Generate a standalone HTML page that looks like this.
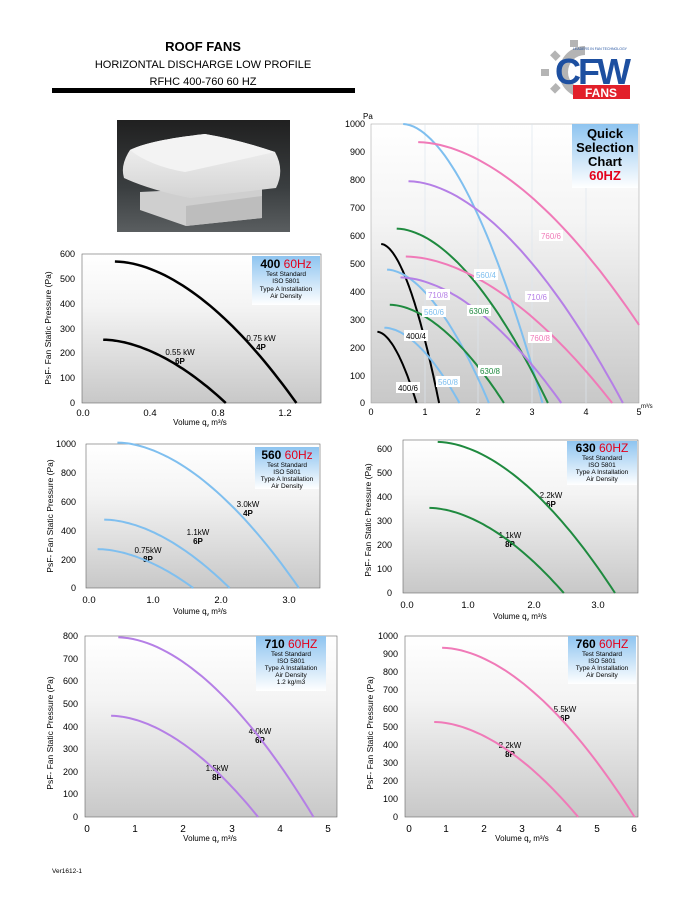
<!DOCTYPE html>
<html><head><meta charset="utf-8"><style>
html,body{margin:0;padding:0;background:#fff}
svg{display:block}
text{font-family:"Liberation Sans",Arial,sans-serif}
</style></head><body>
<svg id="s" width="700" height="900" viewBox="0 0 700 900" xmlns="http://www.w3.org/2000/svg">
<defs>
<linearGradient id="bg" x1="0" y1="0" x2="0" y2="1"><stop offset="0" stop-color="#ffffff"/><stop offset="0.35" stop-color="#f4f4f4"/><stop offset="1" stop-color="#c8c8c8"/></linearGradient>
<linearGradient id="bx" x1="0" y1="0" x2="0" y2="1"><stop offset="0" stop-color="#8ec4f0"/><stop offset="1" stop-color="#ffffff"/></linearGradient>
<linearGradient id="ph" x1="0" y1="0" x2="0" y2="1"><stop offset="0" stop-color="#202020"/><stop offset="0.6" stop-color="#3a3e40"/><stop offset="1" stop-color="#5a5e60"/></linearGradient>
<linearGradient id="wb" x1="0" y1="0" x2="0" y2="1"><stop offset="0" stop-color="#f4f4f4"/><stop offset="1" stop-color="#d4d4d4"/></linearGradient>
</defs>
<!-- header -->
<text x="203" y="51" font-size="13" font-weight="bold" text-anchor="middle">ROOF FANS</text>
<text x="203" y="68" font-size="11" text-anchor="middle">HORIZONTAL DISCHARGE LOW PROFILE</text>
<text x="203" y="85" font-size="11" text-anchor="middle">RFHC 400-760  60 HZ</text>
<rect x="52" y="88" width="303" height="5" fill="#000"/>
<!-- logo -->
<g fill="#b4b4b4">
<path d="M585 46 A26 26 0 1 0 585 98 L585 89 A17 17 0 1 1 585 55 Z"/>
<rect x="552" y="52" width="7" height="8" transform="rotate(-45 555 56)"/>
<rect x="541" y="69" width="8" height="7"/>
<rect x="552" y="84" width="7" height="8" transform="rotate(45 555 88)"/>
<rect x="570" y="40" width="8" height="7"/>
</g>
<text x="573" y="50" font-size="3.5" fill="#1d4e9e">LEADERS IN FAN TECHNOLOGY</text>
<text x="555" y="84" font-size="36" font-weight="bold" fill="#1d4fa0" letter-spacing="-3">CFW</text>
<rect x="573" y="85" width="57" height="14" fill="#e2202a"/>
<text x="601" y="97" font-size="12" font-weight="bold" fill="#fff" text-anchor="middle">FANS</text>
<!-- photo -->
<rect x="117" y="120" width="173" height="112" fill="url(#ph)"/>
<path d="M140 192 L262 186 L262 218 L186 226 L140 210 Z" fill="#cfcfcf"/>
<path d="M186 206 L262 196 L262 218 L186 226 Z" fill="#bdbdbd"/>
<path d="M130 150 Q150 140 205 134 Q240 140 275 152 Q285 170 276 188 L190 198 Q150 190 124 178 Q120 165 130 150 Z" fill="url(#wb)"/>
<path d="M130 150 Q150 140 205 134 Q240 140 275 152 L185 172 Q150 166 130 150 Z" fill="#f3f3f3"/>

<!-- Quick chart -->
<rect x="371" y="124" width="268" height="279" fill="url(#bg)" stroke="#999" stroke-width="0.5"/>
<g stroke="#dde6ee" stroke-width="0.7"><line x1="425" y1="124" x2="425" y2="403"/><line x1="478" y1="124" x2="478" y2="403"/><line x1="532" y1="124" x2="532" y2="403"/><line x1="586" y1="124" x2="586" y2="403"/></g>
<rect x="572" y="124" width="66" height="64" fill="url(#bx)"/>
<text x="605" y="138" font-size="13" font-weight="bold" text-anchor="middle">Quick</text>
<text x="605" y="152" font-size="13" font-weight="bold" text-anchor="middle">Selection</text>
<text x="605" y="166" font-size="13" font-weight="bold" text-anchor="middle">Chart</text>
<text x="605" y="180" font-size="13" font-weight="bold" text-anchor="middle" fill="#e3001b">60HZ</text>
<g font-size="9" text-anchor="end"><text x="365" y="127">1000</text><text x="365" y="155">900</text><text x="365" y="183">800</text><text x="365" y="211">700</text><text x="365" y="239">600</text><text x="365" y="267">500</text><text x="365" y="295">400</text><text x="365" y="323">300</text><text x="365" y="351">200</text><text x="365" y="379">100</text><text x="365" y="406">0</text></g>
<text x="363" y="119" font-size="8">Pa</text>
<g font-size="9" text-anchor="middle"><text x="371" y="415">0</text><text x="425" y="415">1</text><text x="478" y="415">2</text><text x="532" y="415">3</text><text x="586" y="415">4</text><text x="639" y="415">5</text></g>
<text x="641" y="408" font-size="6">m³/s</text>
<g id="qc"></g>
<g font-size="8" text-anchor="middle">
<rect x="539" y="230" width="24" height="11" fill="#fff"/><text x="551" y="239" fill="#f07ab8">760/6</text>
<rect x="474" y="269" width="24" height="11" fill="#fff"/><text x="486" y="278" fill="#7fbfef">560/4</text>
<rect x="525" y="291" width="24" height="11" fill="#fff"/><text x="537" y="300" fill="#b57fe6">710/6</text>
<rect x="426" y="289" width="24" height="11" fill="#fff"/><text x="438" y="298" fill="#b57fe6">710/8</text>
<rect x="422" y="306" width="24" height="11" fill="#fff"/><text x="434" y="315" fill="#7fbfef">560/6</text>
<rect x="467" y="305" width="24" height="11" fill="#fff"/><text x="479" y="314" fill="#1f8a3f">630/6</text>
<rect x="404" y="330" width="24" height="11" fill="#fff"/><text x="416" y="339" fill="#000">400/4</text>
<rect x="528" y="332" width="24" height="11" fill="#fff"/><text x="540" y="341" fill="#f07ab8">760/8</text>
<rect x="478" y="365" width="24" height="11" fill="#fff"/><text x="490" y="374" fill="#1f8a3f">630/8</text>
<rect x="436" y="376" width="24" height="11" fill="#fff"/><text x="448" y="385" fill="#7fbfef">560/8</text>
<rect x="396" y="382" width="24" height="11" fill="#fff"/><text x="408" y="391" fill="#000">400/6</text>
</g>

<!-- Chart 400 -->
<rect x="82" y="254" width="239" height="149" fill="url(#bg)" stroke="#666" stroke-width="0.6"/>
<rect x="252" y="256" width="68" height="49" fill="url(#bx)"/>
<text x="286" y="268" font-size="12" font-weight="bold" text-anchor="middle">400 <tspan fill="#e3001b" font-weight="normal">60Hz</tspan></text>
<g font-size="6.5" text-anchor="middle"><text x="286" y="276">Test Standard</text><text x="286" y="283">ISO 5801</text><text x="286" y="291">Type A Installation</text><text x="286" y="298">Air Density</text></g>
<g font-size="9" text-anchor="end"><text x="75" y="257">600</text><text x="75" y="282">500</text><text x="75" y="307">400</text><text x="75" y="332">300</text><text x="75" y="356">200</text><text x="75" y="381">100</text><text x="75" y="406">0</text></g>
<g font-size="9.5" text-anchor="middle"><text x="83" y="416">0.0</text><text x="150" y="416">0.4</text><text x="218" y="416">0.8</text><text x="285" y="416">1.2</text></g>
<text x="200" y="425" font-size="8" text-anchor="middle">Volume q<tspan font-size="5" dy="2">v</tspan><tspan dy="-2"> m³/s</tspan></text>
<text transform="translate(51 328) rotate(-90)" font-size="8.5" text-anchor="middle">PsF- Fan Static Pressure (Pa)</text>
<g font-size="8" text-anchor="middle"><text x="261" y="341">0.75 kW</text><text x="261" y="350" font-weight="bold">4P</text><text x="180" y="355">0.55 kW</text><text x="180" y="364" font-weight="bold">6P</text></g>

<!-- Chart 560 -->
<rect x="86" y="444" width="234" height="144" fill="url(#bg)" stroke="#666" stroke-width="0.6"/>
<rect x="255" y="447" width="64" height="42" fill="url(#bx)"/>
<text x="287" y="459" font-size="12" font-weight="bold" text-anchor="middle">560 <tspan fill="#e3001b" font-weight="normal">60Hz</tspan></text>
<g font-size="6.5" text-anchor="middle"><text x="287" y="467">Test Standard</text><text x="287" y="474">ISO 5801</text><text x="287" y="481">Type A Installation</text><text x="287" y="488">Air Density</text></g>
<g font-size="9" text-anchor="end"><text x="76" y="447">1000</text><text x="76" y="476">800</text><text x="76" y="505">600</text><text x="76" y="534">400</text><text x="76" y="563">200</text><text x="76" y="591">0</text></g>
<g font-size="9.5" text-anchor="middle"><text x="89" y="603">0.0</text><text x="153" y="603">1.0</text><text x="221" y="603">2.0</text><text x="289" y="603">3.0</text></g>
<text x="200" y="614" font-size="8" text-anchor="middle">Volume q<tspan font-size="5" dy="2">v</tspan><tspan dy="-2"> m³/s</tspan></text>
<text transform="translate(53 516) rotate(-90)" font-size="8.5" text-anchor="middle">PsF- Fan Static Pressure (Pa)</text>
<g font-size="8" text-anchor="middle"><text x="248" y="507">3.0kW</text><text x="248" y="516" font-weight="bold">4P</text><text x="198" y="535">1.1kW</text><text x="198" y="544" font-weight="bold">6P</text><text x="148" y="553">0.75kW</text><text x="148" y="562" font-weight="bold">8P</text></g>

<!-- Chart 630 -->
<rect x="403" y="440" width="235" height="153" fill="url(#bg)" stroke="#666" stroke-width="0.6"/>
<rect x="567" y="441" width="70" height="44" fill="url(#bx)"/>
<text x="602" y="452" font-size="12" font-weight="bold" text-anchor="middle">630 <tspan fill="#e3001b" font-weight="normal">60HZ</tspan></text>
<g font-size="6.5" text-anchor="middle"><text x="602" y="460">Test Standard</text><text x="602" y="467">ISO 5801</text><text x="602" y="474">Type A Installation</text><text x="602" y="481">Air Density</text></g>
<g font-size="9" text-anchor="end"><text x="392" y="452">600</text><text x="392" y="476">500</text><text x="392" y="500">400</text><text x="392" y="524">300</text><text x="392" y="548">200</text><text x="392" y="572">100</text><text x="392" y="596">0</text></g>
<g font-size="9.5" text-anchor="middle"><text x="407" y="608">0.0</text><text x="468" y="608">1.0</text><text x="534" y="608">2.0</text><text x="598" y="608">3.0</text></g>
<text x="520" y="619" font-size="8" text-anchor="middle">Volume q<tspan font-size="5" dy="2">v</tspan><tspan dy="-2"> m³/s</tspan></text>
<text transform="translate(371 520) rotate(-90)" font-size="8.5" text-anchor="middle">PsF- Fan Static Pressure (Pa)</text>
<g font-size="8" text-anchor="middle"><text x="551" y="498">2.2kW</text><text x="551" y="507" font-weight="bold">6P</text><text x="510" y="538">1.1kW</text><text x="510" y="547" font-weight="bold">8P</text></g>

<!-- Chart 710 -->
<rect x="85" y="636" width="252" height="181" fill="url(#bg)" stroke="#666" stroke-width="0.6"/>
<rect x="256" y="636" width="70" height="55" fill="url(#bx)"/>
<text x="291" y="648" font-size="12" font-weight="bold" text-anchor="middle">710 <tspan fill="#e3001b" font-weight="normal">60HZ</tspan></text>
<g font-size="6.5" text-anchor="middle"><text x="291" y="656">Test Standard</text><text x="291" y="663">ISO 5801</text><text x="291" y="670">Type A Installation</text><text x="291" y="677">Air Density</text><text x="291" y="684">1.2 kg/m3</text></g>
<g font-size="9" text-anchor="end"><text x="78" y="639">800</text><text x="78" y="662">700</text><text x="78" y="684">600</text><text x="78" y="707">500</text><text x="78" y="730">400</text><text x="78" y="752">300</text><text x="78" y="775">200</text><text x="78" y="797">100</text><text x="78" y="820">0</text></g>
<g font-size="10" text-anchor="middle"><text x="87" y="832">0</text><text x="135" y="832">1</text><text x="183" y="832">2</text><text x="232" y="832">3</text><text x="280" y="832">4</text><text x="328" y="832">5</text></g>
<text x="210" y="841" font-size="8" text-anchor="middle">Volume q<tspan font-size="5" dy="2">v</tspan><tspan dy="-2"> m³/s</tspan></text>
<text transform="translate(53 733) rotate(-90)" font-size="8.5" text-anchor="middle">PsF- Fan Static Pressure (Pa)</text>
<g font-size="8" text-anchor="middle"><text x="260" y="734">4.0kW</text><text x="260" y="743" font-weight="bold">6P</text><text x="217" y="771">1.5kW</text><text x="217" y="780" font-weight="bold">8P</text></g>

<!-- Chart 760 -->
<rect x="405" y="636" width="233" height="181" fill="url(#bg)" stroke="#666" stroke-width="0.6"/>
<rect x="568" y="636" width="68" height="48" fill="url(#bx)"/>
<text x="602" y="648" font-size="12" font-weight="bold" text-anchor="middle">760 <tspan fill="#e3001b" font-weight="normal">60HZ</tspan></text>
<g font-size="6.5" text-anchor="middle"><text x="602" y="656">Test Standard</text><text x="602" y="663">ISO 5801</text><text x="602" y="670">Type A Installation</text><text x="602" y="677">Air Density</text></g>
<g font-size="9" text-anchor="end"><text x="398" y="639">1000</text><text x="398" y="657">900</text><text x="398" y="675">800</text><text x="398" y="693">700</text><text x="398" y="712">600</text><text x="398" y="730">500</text><text x="398" y="748">400</text><text x="398" y="766">300</text><text x="398" y="784">200</text><text x="398" y="802">100</text><text x="398" y="820">0</text></g>
<g font-size="10" text-anchor="middle"><text x="409" y="832">0</text><text x="446" y="832">1</text><text x="484" y="832">2</text><text x="522" y="832">3</text><text x="559" y="832">4</text><text x="597" y="832">5</text><text x="634" y="832">6</text></g>
<text x="522" y="841" font-size="8" text-anchor="middle">Volume q<tspan font-size="5" dy="2">v</tspan><tspan dy="-2"> m³/s</tspan></text>
<text transform="translate(373 733) rotate(-90)" font-size="8.5" text-anchor="middle">PsF- Fan Static Pressure (Pa)</text>
<g font-size="8" text-anchor="middle"><text x="565" y="712">5.5kW</text><text x="565" y="721" font-weight="bold">6P</text><text x="510" y="748">2.2kW</text><text x="510" y="757" font-weight="bold">8P</text></g>

<text x="52" y="873" font-size="6.5">Ver1612-1</text>
<g id="cv"></g>
</svg>
<script>
var NS="http://www.w3.org/2000/svg";
function cur(g,x0,xs,y0,ys,q0,p0,qm,col,qend,w){
  var d="",n=40,q1=qend||qm;
  for(var i=0;i<=n;i++){var q=q0+(q1-q0)*i/n;var t=(q-q0)/(qm-q0);var p=p0*(1-Math.pow(t,1.8));if(p<0)p=0;
   d+=(i?"L":"M")+(x0+q*xs).toFixed(1)+" "+(y0-p*ys).toFixed(1);}
  var e=document.createElementNS(NS,"path");e.setAttribute("d",d);e.setAttribute("fill","none");e.setAttribute("stroke",col);e.setAttribute("stroke-width",w||2);
  document.getElementById(g).appendChild(e);
}
var B="#000",L="#7fbfef",G="#1f8a3f",P="#b57fe6",K="#f07ab8";
var X=371,XS=53.6,Y=403,YS=0.279;
cur("qc",X,XS,Y,YS,0.12,255,0.85,B);cur("qc",X,XS,Y,YS,0.19,570,1.27,B);
cur("qc",X,XS,Y,YS,0.25,270,1.65,L);cur("qc",X,XS,Y,YS,0.3,478,2.2,L);cur("qc",X,XS,Y,YS,0.6,1000,3.2,L);
cur("qc",X,XS,Y,YS,0.35,352,2.48,G);cur("qc",X,XS,Y,YS,0.48,625,3.3,G);
cur("qc",X,XS,Y,YS,0.55,450,3.55,P);cur("qc",X,XS,Y,YS,0.7,795,4.7,P);
cur("qc",X,XS,Y,YS,0.65,525,4.5,K);cur("qc",X,XS,Y,YS,0.88,935,5.9,K,5);
cur("cv",83,168,403,0.2483,0.12,255,0.85,B,0,2.5);cur("cv",83,168,403,0.2483,0.19,570,1.27,B,0,2.5);
cur("cv",91,66,588,0.144,0.1,270,1.55,L);cur("cv",91,66,588,0.144,0.2,475,2.1,L);cur("cv",91,66,588,0.144,0.4,1010,3.15,L);
cur("cv",407,64,593,0.2417,0.35,352,2.45,G);cur("cv",407,64,593,0.2417,0.48,625,3.25,G);
cur("cv",87,48.2,817,0.226,0.5,448,3.55,P);cur("cv",87,48.2,817,0.226,0.65,795,4.7,P);
cur("cv",409,37.6,817,0.181,0.67,525,4.5,K);cur("cv",409,37.6,817,0.181,0.88,935,6,K);
</script>
</body></html>
